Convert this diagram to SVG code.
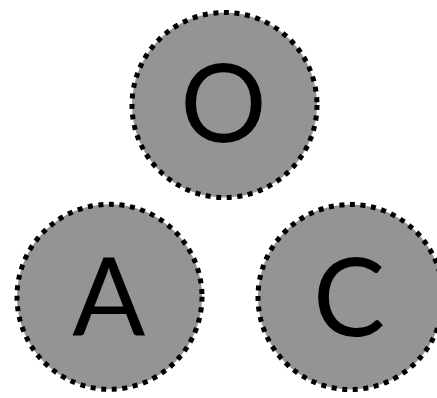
<svg xmlns="http://www.w3.org/2000/svg" width="437" height="398" viewBox="0 0 437 398">
<style>
.n circle{fill:#949494;stroke:#000;stroke-width:5;stroke-dasharray:5 5.6}
.n text{font-family:Lato,"Liberation Sans",sans-serif;font-size:108px;fill:#000;text-anchor:middle}
</style>
<rect width="437" height="398" fill="#fff"/>
<g id="connectors"></g>
<g id="node-O" class="n"><circle cx="224.5" cy="105" r="92.5"/><text x="223.5" y="142">O</text></g>
<g id="node-A" class="n"><circle cx="109.5" cy="296.8" r="92.5"/><text x="108.7" y="335">A</text></g>
<g id="node-C" class="n"><circle cx="350.5" cy="297" r="92.5"/><text x="349" y="335.5">C</text></g>
</svg>
